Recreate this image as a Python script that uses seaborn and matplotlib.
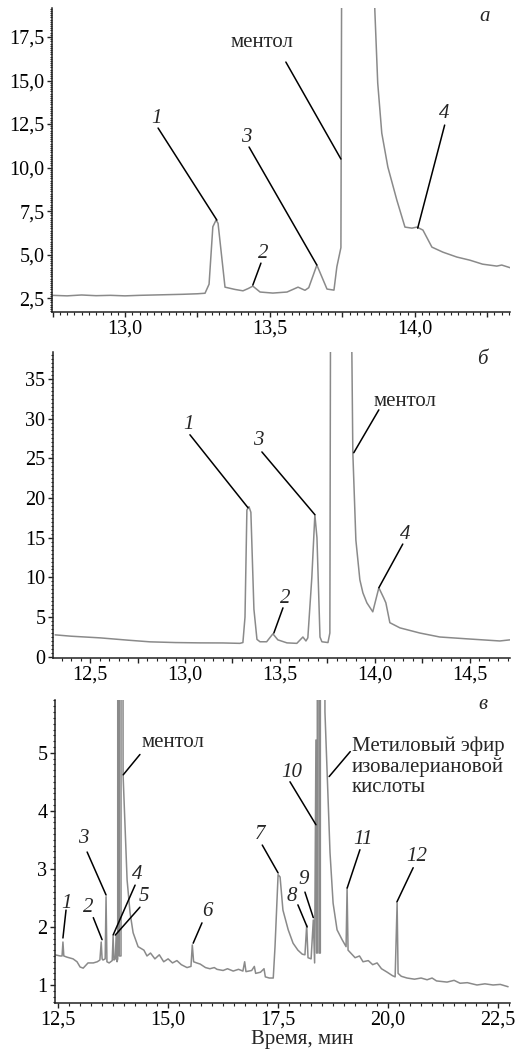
import numpy as np
import pandas as pd
import seaborn as sns
import matplotlib.pyplot as plt
from matplotlib.ticker import MultipleLocator, FuncFormatter

# ---- panel a ----
time_a = [12.748, 12.80, 12.85, 12.90, 12.95, 13.00, 13.05, 13.10, 13.15, 13.20,
          13.25, 13.276, 13.290, 13.303, 13.314, 13.321, 13.345, 13.379, 13.407, 13.425,
          13.441, 13.466, 13.51, 13.559, 13.597, 13.621, 13.634, 13.662, 13.697, 13.721,
          13.731, 13.745, 13.749, 13.80, 13.862, 13.872, 13.886, 13.907, 13.938, 13.966,
          13.990, 14.007, 14.028, 14.059, 14.097, 14.145, 14.19, 14.234, 14.283, 14.30,
          14.334]
signal_a = [2.66, 2.63, 2.68, 2.64, 2.66, 2.63, 2.66, 2.68, 2.70, 2.72,
            2.75, 2.78, 3.3, 6.6, 6.98, 6.8, 3.13, 3.0, 2.92, 3.05,
            3.19, 2.85, 2.79, 2.85, 3.13, 2.95, 3.1, 4.4, 3.02, 2.96,
            4.3, 5.4, 30.0, 60.0, 19.05, 14.86, 11.98, 10.03, 8.13, 6.58,
            6.52, 6.58, 6.41, 5.43, 5.14, 4.86, 4.68, 4.45, 4.34, 4.4,
            4.22]

# ---- panel b ----
time_b = [12.316, 12.40, 12.553, 12.70, 12.816, 12.95, 13.079, 13.20, 13.289, 13.305,
          13.316, 13.326, 13.337, 13.347, 13.363, 13.379, 13.395, 13.43, 13.463, 13.489,
          13.537, 13.589, 13.621, 13.637, 13.647, 13.668, 13.684, 13.695, 13.711, 13.721,
          13.753, 13.763, 13.768, 13.82, 13.879, 13.884, 13.900, 13.921, 13.937, 13.958,
          13.989, 14.021, 14.047, 14.058, 14.079, 14.132, 14.237, 14.342, 14.484, 14.658,
          14.711]
signal_b = [2.77, 2.6, 2.39, 2.1, 1.89, 1.8, 1.76, 1.75, 1.7, 1.8,
            5.0, 18.5, 18.9, 18.2, 6.0, 2.2, 1.9, 1.9, 2.9, 2.14,
            1.76, 1.7, 2.5, 2.0, 2.4, 10.0, 17.9, 15.0, 2.5, 1.9,
            1.8, 3.0, 60.0, 120.0, 38.0, 25.7, 14.7, 9.7, 8.06, 6.8,
            5.67, 8.7, 7.4, 6.8, 4.3, 3.65, 3.0, 2.5, 2.27, 2.0,
            2.14]

# ---- panel c ----
time_c = [12.43, 12.545, 12.59, 12.61, 12.63, 12.70, 12.84, 12.93, 13.00, 13.07,
          13.18, 13.30, 13.39, 13.45, 13.48, 13.50, 13.52, 13.57, 13.59, 13.61,
          13.66, 13.73, 13.75, 13.77, 13.80, 13.82, 13.84, 13.855, 13.86, 13.884,
          13.890, 13.93, 13.935, 13.95, 13.977, 14.068, 14.136, 14.205, 14.318, 14.45,
          14.52, 14.60, 14.70, 14.80, 14.90, 15.00, 15.10, 15.20, 15.30, 15.43,
          15.52, 15.55, 15.58, 15.65, 15.73, 15.85, 15.95, 16.05, 16.11, 16.25,
          16.35, 16.48, 16.60, 16.70, 16.74, 16.77, 16.90, 16.96, 16.99, 17.10,
          17.18, 17.21, 17.30, 17.39, 17.43, 17.50, 17.545, 17.61, 17.73, 17.84,
          17.95, 18.05, 18.11, 18.15, 18.18, 18.25, 18.30, 18.33, 18.36, 18.375,
          18.39, 18.40, 18.42, 18.43, 18.46, 18.465, 18.50, 18.565, 18.614, 18.68,
          18.75, 18.84, 18.955, 19.045, 19.068, 19.09, 19.25, 19.35, 19.43, 19.55,
          19.65, 19.75, 19.85, 19.98, 20.10, 20.16, 20.205, 20.227, 20.30, 20.43,
          20.60, 20.75, 20.886, 21.00, 21.10, 21.34, 21.50, 21.636, 21.80, 22.02,
          22.20, 22.386, 22.55, 22.727]
signal_c = [1.52, 1.50, 1.50, 1.74, 1.50, 1.48, 1.45, 1.40, 1.31, 1.29,
            1.38, 1.38, 1.40, 1.43, 1.74, 1.45, 1.43, 1.45, 2.52, 1.40,
            1.38, 1.42, 1.84, 1.43, 1.45, 1.86, 1.40, 1.45, 40.0, 40.0,
            1.5, 1.5, 40.0, 40.0, 4.62, 2.81, 2.24, 1.90, 1.66, 1.60,
            1.50, 1.55, 1.45, 1.52, 1.40, 1.45, 1.38, 1.42, 1.35, 1.30,
            1.32, 1.69, 1.40, 1.38, 1.36, 1.30, 1.28, 1.30, 1.27, 1.25,
            1.28, 1.24, 1.27, 1.24, 1.40, 1.23, 1.25, 1.32, 1.20, 1.22,
            1.28, 1.14, 1.12, 1.12, 1.66, 2.90, 2.86, 2.29, 1.95, 1.72,
            1.60, 1.53, 1.52, 2.03, 1.47, 1.45, 2.12, 1.38, 5.22, 1.55,
            1.55, 40.0, 40.0, 1.55, 1.55, 40.0, 40.0, 5.7, 4.65, 3.28,
            2.41, 1.95, 1.78, 1.66, 2.67, 1.60, 1.47, 1.50, 1.40, 1.42,
            1.35, 1.38, 1.28, 1.22, 1.16, 1.14, 2.41, 1.20, 1.15, 1.12,
            1.10, 1.12, 1.09, 1.12, 1.07, 1.05, 1.08, 1.03, 1.04, 1.00,
            1.02, 1.00, 1.01, 0.97]

# annotations: text, label position, leader line start, leader line end
notes_a = [("1", 13.11, 12.84, 13.114, 12.27, 13.317, 6.98),
           ("2", 13.476, 5.09, 13.469, 4.51, 13.441, 3.25),
           ("3", 13.42, 11.7, 13.428, 11.18, 13.662, 4.4),
           ("4", 14.103, 13.13, 14.103, 12.44, 14.010, 6.52)]
notes_b = [("1", 13.016, 29.2, 13.026, 27.96, 13.332, 18.77),
           ("2", 13.526, 7.4, 13.516, 6.17, 13.468, 3.0),
           ("3", 13.384, 27.3, 13.405, 25.8, 13.684, 17.9),
           ("4", 14.158, 15.4, 14.147, 14.2, 14.021, 8.7)]
notes_c = [("1", 12.70, 2.41, 12.68, 2.29, 12.61, 1.81),
           ("2", 13.18, 2.34, 13.30, 2.16, 13.50, 1.78),
           ("3", 13.07, 3.52, 13.16, 3.29, 13.59, 2.55),
           ("4", 14.30, 2.90, 14.25, 2.72, 13.75, 1.86),
           ("5", 14.45, 2.52, 14.36, 2.34, 13.80, 1.86),
           ("6", 15.89, 2.26, 15.77, 2.07, 15.57, 1.72),
           ("7", 17.09, 3.59, 17.14, 3.41, 17.50, 2.93),
           ("8", 17.82, 2.52, 17.95, 2.38, 18.16, 2.00),
           ("9", 18.09, 2.81, 18.11, 2.60, 18.30, 2.16),
           ("10", 17.82, 4.66, 17.77, 4.50, 18.36, 3.76),
           ("11", 19.43, 3.50, 19.36, 3.33, 19.07, 2.67),
           ("12", 20.66, 3.21, 20.57, 3.02, 20.20, 2.43)]

sns.set_style("ticks")
plt.rcParams['font.family'] = ['Liberation Serif', 'DejaVu Serif']

fig = plt.figure(figsize=(5.15, 10.56), dpi=100)
ax_a = fig.add_axes([0.101, 0.7045, 0.889, 0.288])
ax_b = fig.add_axes([0.103, 0.377, 0.887, 0.2898])
ax_c = fig.add_axes([0.107, 0.0502, 0.8835, 0.287])

line_col = '#8a8a8a'


def comma(fmt, step=None):
    def f(v, pos):
        if step is not None and abs(v / step - round(v / step)) > 1e-6:
            return ''
        return fmt.format(v).replace('.', ',')
    return FuncFormatter(f)


def draw(ax, t, s, notes):
    df = pd.DataFrame({'t': t, 's': s})
    sns.lineplot(data=df, x='t', y='s', sort=False, estimator=None,
                 color=line_col, lw=1.1, ax=ax)
    for txt, lx, ly, x0, y0, x1, y1 in notes:
        ax.plot([x0, x1], [y0, y1], color='black', lw=1.1)
        ax.text(lx, ly, txt, ha='center', va='center', fontsize=15, style='italic')
    ax.set_xlabel('')
    ax.set_ylabel('')
    sns.despine(ax=ax)
    for sp in ['left', 'bottom']:
        ax.spines[sp].set_linewidth(1.1)
        ax.spines[sp].set_color('#222222')
    ax.tick_params(which='major', length=3.5, width=1, direction='out',
                   labelsize=14.5, pad=2, colors='#222222', labelcolor='black')
    ax.tick_params(which='minor', length=1.8, width=0.8, direction='out',
                   colors='#222222')


draw(ax_a, time_a, signal_a, notes_a)
ax_a.set_xlim(12.748, 14.328)
ax_a.set_ylim(1.70, 19.17)
ax_a.xaxis.set_major_locator(MultipleLocator(0.25))
ax_a.xaxis.set_major_formatter(comma('{:.1f}', 0.5))
ax_a.xaxis.set_minor_locator(MultipleLocator(0.025))
ax_a.yaxis.set_major_locator(MultipleLocator(2.5))
ax_a.yaxis.set_major_formatter(comma('{:.1f}'))
ax_a.yaxis.set_minor_locator(MultipleLocator(0.125))
ax_a.plot([13.555, 13.745], [16.06, 10.49], color='black', lw=1.1)
ax_a.text(13.472, 17.16, 'ментол', ha='center', va='center', fontsize=15)
ax_a.text(14.24, 18.65, 'а', ha='center', va='center', fontsize=15, style='italic')

draw(ax_b, time_b, signal_b, notes_b)
ax_b.set_xlim(12.305, 14.711)
ax_b.set_ylim(-0.13, 38.4)
ax_b.xaxis.set_major_locator(MultipleLocator(0.25))
ax_b.xaxis.set_major_formatter(comma('{:.1f}', 0.5))
ax_b.xaxis.set_minor_locator(MultipleLocator(0.05))
ax_b.yaxis.set_major_locator(MultipleLocator(5))
ax_b.yaxis.set_major_formatter(comma('{:.0f}'))
ax_b.yaxis.set_minor_locator(MultipleLocator(0.5))
ax_b.plot([14.021, 13.889], [31.1, 25.7], color='black', lw=1.1)
ax_b.text(14.158, 32.1, 'ментол', ha='center', va='center', fontsize=15)
ax_b.text(14.568, 37.4, 'б', ha='center', va='center', fontsize=15, style='italic')

draw(ax_c, time_c, signal_c, notes_c)
ax_c.set_xlim(12.432, 22.773)
ax_c.set_ylim(0.69, 5.91)
ax_c.xaxis.set_major_locator(MultipleLocator(2.5))
ax_c.xaxis.set_major_formatter(comma('{:.1f}'))
ax_c.xaxis.set_minor_locator(MultipleLocator(0.25))
ax_c.yaxis.set_major_locator(MultipleLocator(1))
ax_c.yaxis.set_major_formatter(comma('{:.0f}'))
ax_c.yaxis.set_minor_locator(MultipleLocator(0.1))
ax_c.plot([14.36, 13.98], [4.97, 4.62], color='black', lw=1.1)
ax_c.text(15.11, 5.17, 'ментол', ha='center', va='center', fontsize=15)
ax_c.plot([19.14, 18.66], [5.02, 4.59], color='black', lw=1.1)
ax_c.text(19.18, 4.76, 'Метиловый эфир\nизовалериановой\nкислоты',
          ha='left', va='center', fontsize=15, linespacing=1.1)
ax_c.text(22.16, 5.83, 'в', ha='center', va='center', fontsize=15, style='italic')

fig.text(0.586, 0.0152, 'Время, мин', ha='center', va='center', fontsize=15)

fig.savefig('out.png', dpi=100)
